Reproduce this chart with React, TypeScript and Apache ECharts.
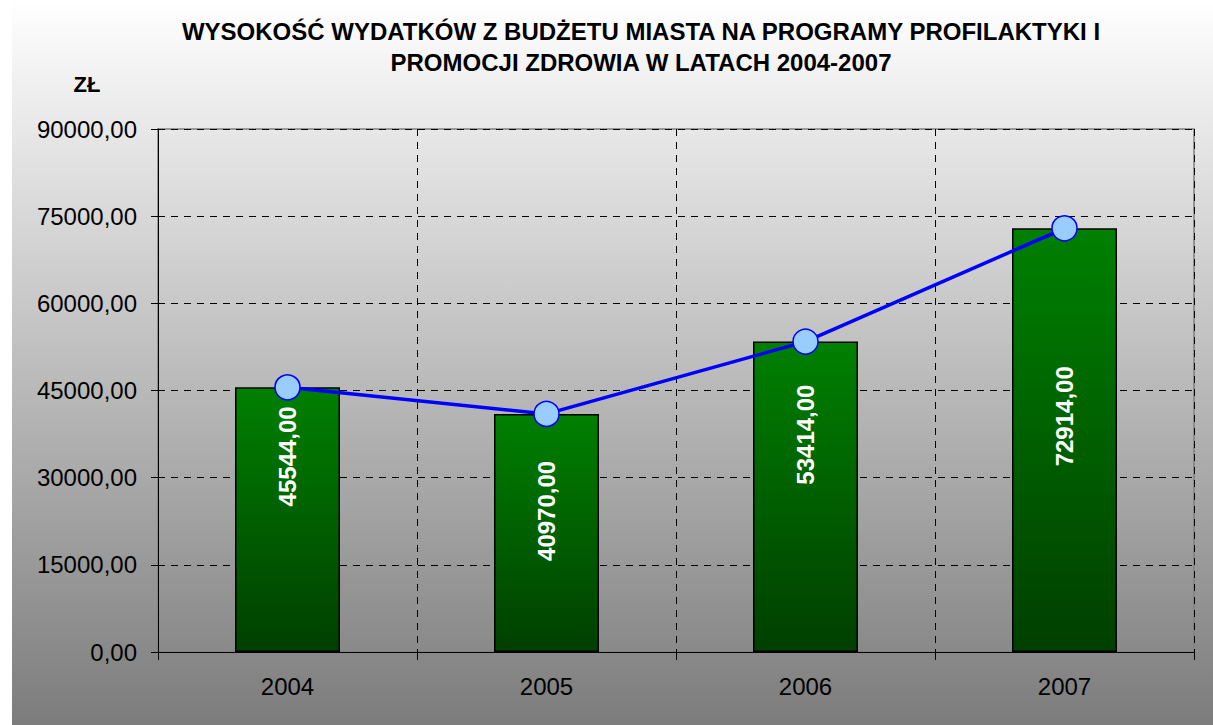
import React, { useEffect, useRef } from "react";
import * as echarts from "echarts";

const categories = ["2004", "2005", "2006", "2007"];
const barValues = [45544, 40970, 53414, 72914];
const lineValues = [45544, 40970, 53414, 72914];
const yTicks = { min: 0, max: 90000, interval: 15000 };
const titleLines = [
  "WYSOKOŚĆ WYDATKÓW Z BUDŻETU MIASTA NA PROGRAMY PROFILAKTYKI I",
  "PROMOCJI ZDROWIA W LATACH 2004-2007",
];
const unitLabel = "ZŁ";
// layout: distance (px) of each bar label's centre from the bar top
const labelCenterFromTop = [69, 97, 93, 188];

const FONT = "'Liberation Sans', Arial, Helvetica, sans-serif";
const fmt = (v: number) => v.toFixed(2).replace(".", ",");

export default function App() {
  const ref = useRef<HTMLDivElement>(null);
  useEffect(() => {
    if (!ref.current) return;
    const chart = echarts.init(ref.current, null, { renderer: "svg" });
    const W = 1213;
    const H = 725;
    chart.setOption({
      animation: false,
      backgroundColor: "#ffffff",
      textStyle: { fontFamily: FONT },
      graphic: [
        {
          type: "rect",
          z: -10,
          silent: true,
          shape: { x: 12, y: 0, width: W - 12, height: H },
          style: {
            fill: new echarts.graphic.LinearGradient(0, 0, 0, 1, [
              { offset: 0, color: "#ffffff" },
              { offset: 1, color: "#7c7c7c" },
            ]),
          },
        },
        {
          type: "text",
          x: 641,
          y: 31,
          style: {
            text: titleLines[0],
            fontFamily: FONT,
            fontWeight: "bold",
            fontSize: 24,
            fill: "#000",
            align: "center",
            verticalAlign: "middle",
          },
        },
        {
          type: "text",
          x: 641,
          y: 62,
          style: {
            text: titleLines[1],
            fontFamily: FONT,
            fontWeight: "bold",
            fontSize: 24,
            fill: "#000",
            align: "center",
            verticalAlign: "middle",
          },
        },
        {
          type: "text",
          x: 87,
          y: 84,
          style: {
            text: unitLabel,
            fontFamily: FONT,
            fontWeight: "bold",
            fontSize: 22,
            fill: "#000",
            align: "center",
            verticalAlign: "middle",
          },
        },
      ],
      grid: {
        left: 158,
        top: 129,
        width: 1036,
        height: 523,
        show: true,
        backgroundColor: "transparent",
        borderColor: "#808080",
        borderWidth: 1.5,
      },
      xAxis: {
        type: "category",
        data: categories,
        boundaryGap: true,
        axisLine: { show: true, lineStyle: { color: "#000", width: 1 } },
        axisTick: { show: true, length: 8, lineStyle: { color: "#000" } },
        axisLabel: { color: "#000", fontSize: 24, margin: 22, fontFamily: FONT },
        splitLine: {
          show: true,
          lineStyle: { color: "#000", width: 1, type: [7, 6] },
        },
      },
      yAxis: {
        type: "value",
        min: yTicks.min,
        max: yTicks.max,
        interval: yTicks.interval,
        axisLine: { show: true, lineStyle: { color: "#000", width: 1 } },
        axisTick: { show: true, length: 7, lineStyle: { color: "#000" } },
        axisLabel: {
          color: "#000",
          fontSize: 24,
          margin: 21,
          fontFamily: FONT,
          formatter: (v: number) => fmt(v),
        },
        splitLine: {
          show: true,
          lineStyle: { color: "#000", width: 1, type: [7, 6] },
        },
      },
      series: [
        {
          type: "bar",
          barWidth: 105,
          z: 2,
          data: barValues.map((v, i) => ({
            value: v,
            label: {
              show: true,
              position: ["50%", labelCenterFromTop[i]],
              rotate: 90,
              align: "center",
              verticalAlign: "middle",
              color: "#ffffff",
              fontWeight: "bold",
              fontSize: 24,
              fontFamily: FONT,
              formatter: () => fmt(v),
            },
          })),
          itemStyle: {
            color: new echarts.graphic.LinearGradient(0, 0, 0, 1, [
              { offset: 0, color: "#008000" },
              { offset: 1, color: "#003f00" },
            ]),
            borderColor: "#000",
            borderWidth: 1.5,
          },
        },
        {
          type: "line",
          z: 3,
          data: lineValues,
          symbol: "circle",
          symbolSize: 25,
          lineStyle: { color: "#0000ff", width: 3.5 },
          itemStyle: { color: "#99ccff", borderColor: "#0000ff", borderWidth: 1.5 },
          label: { show: false },
        },
      ],
    });
    return () => chart.dispose();
  }, []);
  return (
    <div
      ref={ref}
      style={{ position: "fixed", left: 0, top: 0, width: 1213, height: 725 }}
    />
  );
}
